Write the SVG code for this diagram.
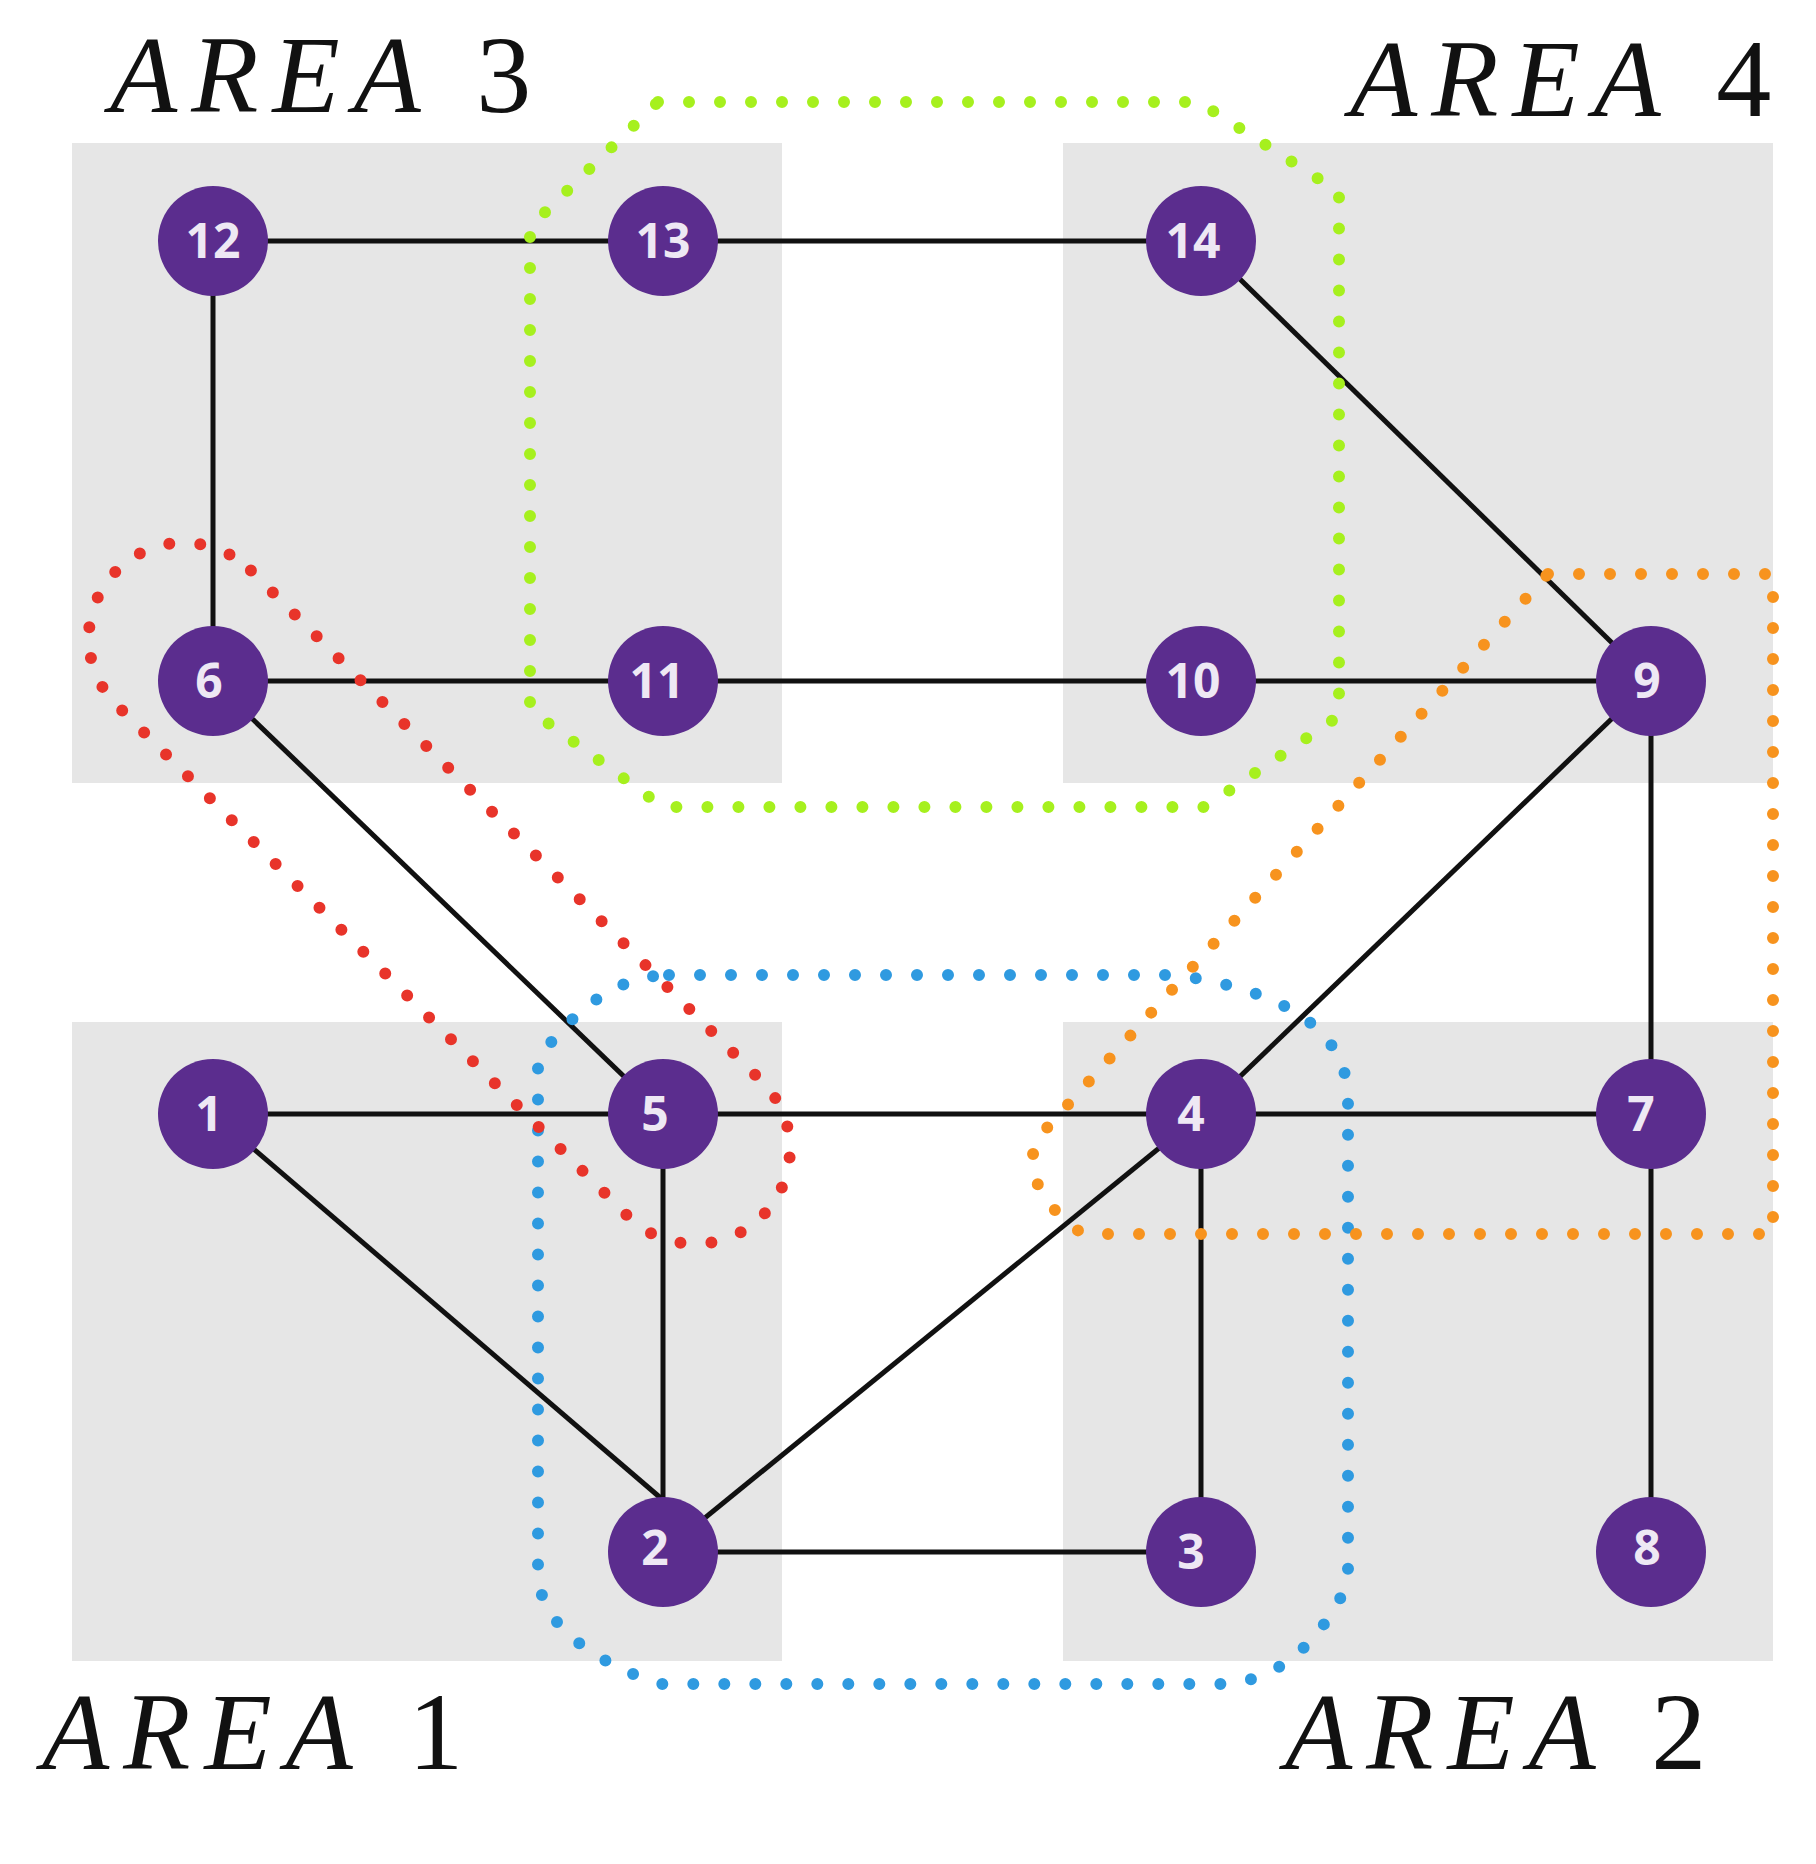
<svg xmlns="http://www.w3.org/2000/svg" width="1816" height="1864" viewBox="0 0 1816 1864">
<style>
.area{fill:#e6e6e6}
.e{stroke:#111;stroke-width:5;fill:none}
.n{fill:#5b2d8e}
.t{fill:#eee8f4;font-family:"Open Sans","DejaVu Sans",sans-serif;font-weight:bold;font-size:48px;text-anchor:middle}
.lab{font-family:"Liberation Serif",serif;font-size:110px;fill:#111;letter-spacing:14px}
.d{fill:none;stroke-width:12;stroke-linecap:round;stroke-dasharray:0 31}
</style>
<rect width="1816" height="1864" fill="#fff"/>
<g id="areas">
<rect class="area" x="72" y="143" width="710" height="640"/>
<rect class="area" x="1063" y="143" width="710" height="640"/>
<rect class="area" x="72" y="1022" width="710" height="639"/>
<rect class="area" x="1063" y="1022" width="710" height="639"/>
</g>
<g id="labels">
<text class="lab" x="110" y="112"><tspan font-style="italic">AREA</tspan> 3</text>
<text class="lab" x="1350" y="116"><tspan font-style="italic">AREA</tspan> 4</text>
<text class="lab" x="42" y="1769"><tspan font-style="italic">AREA</tspan> 1</text>
<text class="lab" x="1285" y="1769"><tspan font-style="italic">AREA</tspan> 2</text>
</g>
<g id="connectors">
<line class="e" x1="213" y1="241" x2="663" y2="241"/>
<line class="e" x1="663" y1="241" x2="1201" y2="241"/>
<line class="e" x1="213" y1="241" x2="213" y2="681"/>
<line class="e" x1="213" y1="681" x2="1651" y2="681"/>
<line class="e" x1="1201" y1="241" x2="1651" y2="681"/>
<line class="e" x1="213" y1="681" x2="663" y2="1114"/>
<line class="e" x1="1651" y1="681" x2="1201" y2="1114"/>
<line class="e" x1="1651" y1="681" x2="1651" y2="1552"/>
<line class="e" x1="213" y1="1114" x2="1651" y2="1114"/>
<line class="e" x1="213" y1="1114" x2="663" y2="1500"/>
<line class="e" x1="663" y1="1114" x2="663" y2="1552"/>
<line class="e" x1="663" y1="1552" x2="1201" y2="1114"/>
<line class="e" x1="1201" y1="1114" x2="1201" y2="1552"/>
<line class="e" x1="663" y1="1552" x2="1201" y2="1552"/>
</g>
<g id="groups">
<path class="d" stroke="#a6f01e" d="M658 102 L1199 102 L1339 192 L1339 716 L1205 807 L663 807 L530 710 L530 227 Z"/>
<path class="d" stroke="#2f9ae0" d="M669 975 L1176 975 Q1348 1000 1348 1100 L1348 1583 Q1300 1684 1216 1684 L658 1684 Q538 1640 538 1571 L538 1059 Q600 975 669 975 Z"/>
<path class="d" stroke="#f7931e" d="M1548 574 L1773 574 L1773 1234 L1083 1234 Q1020 1190 1036 1140 L1548 574 Z"/>
<rect class="d" stroke="#e8342a" x="-17" y="798" width="913" height="190" rx="95" transform="rotate(45 439 893)"/>
</g>
<g id="n12"><circle class="n" cx="213" cy="241" r="55"/><text class="t" x="213" y="258">12</text></g>
<g id="n13"><circle class="n" cx="663" cy="241" r="55"/><text class="t" x="663" y="258">13</text></g>
<g id="n14"><circle class="n" cx="1201" cy="241" r="55"/><text class="t" x="1193" y="258">14</text></g>
<g id="n6"><circle class="n" cx="213" cy="681" r="55"/><text class="t" x="209" y="698">6</text></g>
<g id="n11"><circle class="n" cx="663" cy="681" r="55"/><text class="t" x="657" y="698">11</text></g>
<g id="n10"><circle class="n" cx="1201" cy="681" r="55"/><text class="t" x="1193" y="698">10</text></g>
<g id="n9"><circle class="n" cx="1651" cy="681" r="55"/><text class="t" x="1647" y="698">9</text></g>
<g id="n1"><circle class="n" cx="213" cy="1114" r="55"/><text class="t" x="209" y="1131">1</text></g>
<g id="n5"><circle class="n" cx="663" cy="1114" r="55"/><text class="t" x="655" y="1131">5</text></g>
<g id="n4"><circle class="n" cx="1201" cy="1114" r="55"/><text class="t" x="1191" y="1131">4</text></g>
<g id="n7"><circle class="n" cx="1651" cy="1114" r="55"/><text class="t" x="1641" y="1131">7</text></g>
<g id="n2"><circle class="n" cx="663" cy="1552" r="55"/><text class="t" x="655" y="1565">2</text></g>
<g id="n3"><circle class="n" cx="1201" cy="1552" r="55"/><text class="t" x="1191" y="1569">3</text></g>
<g id="n8"><circle class="n" cx="1651" cy="1552" r="55"/><text class="t" x="1647" y="1565">8</text></g>
</svg>
